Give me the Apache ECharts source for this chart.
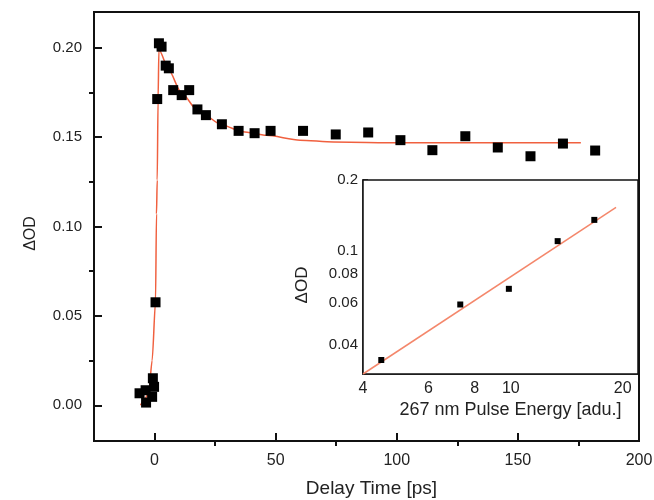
<!DOCTYPE html>
<html>
<head>
<meta charset="utf-8">
<script src="https://cdn.jsdelivr.net/npm/echarts@6/dist/echarts.min.js"></script>
<style>
  html, body { margin: 0; padding: 0; background: #fff; }
  #chart { width: 654px; height: 500px; }
</style>
</head>
<body>
<div id="chart"></div>
<script>
// main panel: transient absorption vs delay
const delayTimes = [-6.2, -3.7, -3.5, -1.0, -0.7, -0.2, 0.4, 1.1, 1.8, 2.9, 4.6, 5.9, 7.7, 11.2, 14.3, 17.7, 21.2, 27.8, 34.7, 41.3, 47.9, 61.3, 74.8, 88.2, 101.5, 114.7, 128.3, 141.7, 155.2, 168.6, 181.9];
const deltaOD = [0.0067, 0.0084, 0.0015, 0.0047, 0.0151, 0.0103, 0.0576, 0.1713, 0.2025, 0.2006, 0.190, 0.1885, 0.1763, 0.1735, 0.1763, 0.1655, 0.1623, 0.1572, 0.1535, 0.1522, 0.1535, 0.1535, 0.1515, 0.1526, 0.1483, 0.1427, 0.1505, 0.1442, 0.1393, 0.1464, 0.1425];

// fit curve
const fitTimes = [-5.8, -4.0, -2.4, -1.0, 0.4, 0.8, 1.1, 1.45, 1.8, 5.9, 10.8, 17.7, 28.1, 36.4, 46.1, 60, 73.8, 101.5, 176];
const fitOD = [0.000, 0.0035, 0.007, 0.025, 0.058, 0.107, 0.126, 0.171, 0.199, 0.1875, 0.1754, 0.165, 0.1567, 0.153, 0.151, 0.1483, 0.1473, 0.1468, 0.1468];

// inset: pulse energy dependence (log-log)
const pulseEnergy = [4.48, 7.31, 9.88, 13.37, 16.78];
const insetOD = [0.0344, 0.0592, 0.069, 0.110, 0.1354];
const insetFitEnergy = [4, 19.2];
const insetFitOD = [0.030, 0.153];

// tick labels
const xTicks = [0, 50, 100, 150, 200];
const yTicks = [0, 0.05, 0.10, 0.15, 0.20];
const insetXTicks = [4, 6, 8, 10, 20];
const insetYTicks = [0.04, 0.06, 0.08, 0.1, 0.2];

const FONT = 'Liberation Sans, Arial, sans-serif';
const TXT = '#222';
const INK = '#111';

// main frame in px and its value range
const X_MIN = -25, X_MAX = 200, Y_MIN = -0.02, Y_MAX = 0.22;
const G = { left: 94, right: 15, top: 12, bottom: 59 };
const W = 654, H = 500;
const pxX = (W - G.left - G.right) / (X_MAX - X_MIN);
const pxY = (H - G.top - G.bottom) / (Y_MAX - Y_MIN);
const last = (a) => a[a.length - 1];
// grid spanning only the labelled range, so min is a multiple of the interval
const tickGrid = {
  left: G.left + (xTicks[0] - X_MIN) * pxX,
  right: G.right + (X_MAX - last(xTicks)) * pxX,
  top: G.top + (Y_MAX - last(yTicks)) * pxY,
  bottom: G.bottom + (yTicks[0] - Y_MIN) * pxY
};
const MAJOR = 8;
const xStep = xTicks[1] - xTicks[0];
const yStep = yTicks[1] - yTicks[0];

const chart = echarts.init(document.getElementById('chart'));

const zip = (a, b) => a.map((v, i) => [v, b[i]]);

const hidden = (gridIndex) => ({
  type: 'value', gridIndex, show: false,
  axisLine: { show: false, onZero: false }, splitLine: { show: false }
});

// labels + short in-between ticks
const labelAxis = (ticks, pos, offset, step, label) => ({
  type: 'value', gridIndex: 2, position: pos,
  min: ticks[0], max: last(ticks), interval: step, offset,
  axisLine: { show: false, onZero: false },
  axisTick: { show: false },
  minorTick: { show: true, splitNumber: 2, length: 5, lineStyle: { color: INK, width: 2 } },
  axisLabel: label,
  splitLine: { show: false }
});

// long ticks drawn as split lines of a thin strip along the frame
const stripAxis = (ticks, gridIndex, step) => ({
  type: 'value', gridIndex,
  min: ticks[0], max: last(ticks), interval: step,
  axisLine: { show: false, onZero: false },
  axisTick: { show: false }, axisLabel: { show: false },
  splitLine: { show: true, lineStyle: { color: INK, width: 2 } }
});

chart.setOption({
  backgroundColor: '#fff',
  animation: false,
  textStyle: { fontFamily: FONT },
  grid: [
    { ...G, outerBoundsMode: 'none', show: true, borderColor: INK, borderWidth: 2 },
    { left: 363, right: 16, top: 180, bottom: 126, outerBoundsMode: 'none', show: true, borderColor: INK, borderWidth: 1.5, backgroundColor: '#fff', z: 5 },
    { ...tickGrid, outerBoundsMode: 'none', show: false },
    { left: tickGrid.left, right: tickGrid.right, top: H - G.bottom - MAJOR, bottom: G.bottom, outerBoundsMode: 'none', show: false },
    { left: G.left, width: MAJOR, top: tickGrid.top, bottom: tickGrid.bottom, outerBoundsMode: 'none', show: false }
  ],
  xAxis: [
    {
      type: 'value', gridIndex: 0, min: X_MIN, max: X_MAX, position: 'bottom',
      name: 'Delay Time [ps]', nameLocation: 'middle', nameGap: 38,
      nameTextStyle: { fontSize: 19, color: TXT, fontFamily: FONT, padding: [0, 0, 0, 10] },
      axisLine: { onZero: false, lineStyle: { color: INK, width: 2 } },
      axisTick: { show: false }, axisLabel: { show: false },
      splitLine: { show: false }
    },
    {
      type: 'log', gridIndex: 1, min: 4, max: 22, logBase: 10, position: 'bottom',
      name: '267 nm Pulse Energy [adu.]', nameLocation: 'middle', nameGap: 27,
      nameTextStyle: { fontSize: 18, color: TXT, fontFamily: FONT, padding: [0, 0, 0, 20] },
      axisLine: { onZero: false, lineStyle: { color: INK, width: 1.5 } },
      axisTick: { show: true, inside: true, length: 4, customValues: insetXTicks, lineStyle: { color: INK, width: 1.5 } },
      axisLabel: { customValues: insetXTicks, fontSize: 16, color: TXT, margin: 7, fontFamily: FONT },
      splitLine: { show: false }, minorTick: { show: false }
    },
    labelAxis(xTicks, 'bottom', tickGrid.bottom - G.bottom, xStep,
      { fontSize: 16, color: TXT, margin: 12, fontFamily: FONT }),
    stripAxis(xTicks, 3, xStep),
    hidden(4)
  ],
  yAxis: [
    {
      type: 'value', gridIndex: 0, min: Y_MIN, max: Y_MAX, position: 'left',
      name: 'ΔOD', nameLocation: 'middle', nameGap: 55,
      nameTextStyle: { fontSize: 16, color: TXT, fontFamily: FONT, padding: [0, 14, 0, 0] },
      axisLine: { onZero: false, lineStyle: { color: INK, width: 2 } },
      axisTick: { show: false }, axisLabel: { show: false },
      splitLine: { show: false }
    },
    {
      type: 'log', gridIndex: 1, min: 0.03, max: 0.2, logBase: 10, position: 'left',
      name: 'ΔOD', nameLocation: 'middle', nameGap: 52,
      nameTextStyle: { fontSize: 17, color: TXT, fontFamily: FONT, padding: [0, 16, 0, 0] },
      axisLine: { onZero: false, lineStyle: { color: INK, width: 1.5 } },
      axisTick: { show: true, inside: true, length: 5, customValues: insetYTicks, lineStyle: { color: INK, width: 1.5 } },
      axisLabel: { customValues: insetYTicks, fontSize: 15, color: TXT, margin: 5, fontFamily: FONT,
        formatter: (v) => String(+v.toPrecision(2)) },
      splitLine: { show: false }, minorTick: { show: false }
    },
    labelAxis(yTicks, 'left', tickGrid.left - G.left, yStep,
      { fontSize: 15, color: TXT, margin: 12, fontFamily: FONT, formatter: (v) => v.toFixed(2) }),
    hidden(3),
    stripAxis(yTicks, 4, yStep)
  ],
  series: [
    {
      type: 'line', xAxisIndex: 0, yAxisIndex: 0,
      data: zip(fitTimes, fitOD),
      smooth: 0.25, smoothMonotone: 'x', symbol: 'none',
      lineStyle: { color: '#f0603f', width: 1.5 }, z: 2
    },
    {
      type: 'scatter', xAxisIndex: 0, yAxisIndex: 0,
      data: zip(delayTimes, deltaOD),
      symbol: 'rect', symbolSize: 10,
      itemStyle: { color: '#000', opacity: 1 }, z: 3
    },
    {
      type: 'line', xAxisIndex: 1, yAxisIndex: 1,
      data: zip(insetFitEnergy, insetFitOD),
      symbol: 'none',
      lineStyle: { color: '#f4876b', width: 1.5 }, z: 6
    },
    {
      type: 'scatter', xAxisIndex: 1, yAxisIndex: 1,
      data: zip(pulseEnergy, insetOD),
      symbol: 'rect', symbolSize: 6,
      itemStyle: { color: '#000', opacity: 1 }, z: 7
    }
  ]
});
</script>
</body>
</html>
